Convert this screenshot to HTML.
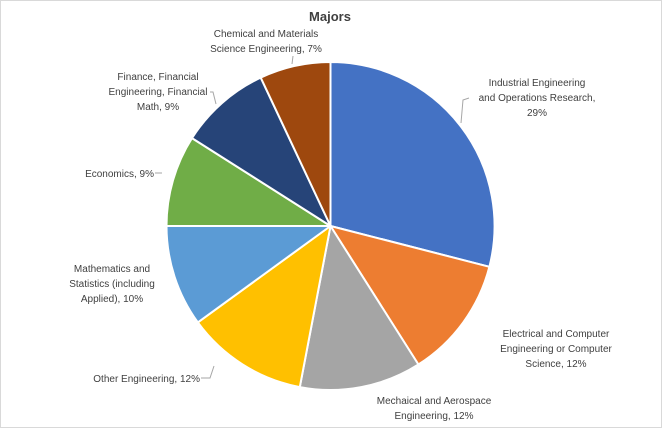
<!DOCTYPE html>
<html><head><meta charset="utf-8"><style>
html,body{margin:0;padding:0;background:#fff;}
svg{display:block;}
text{font-family:"Liberation Sans",sans-serif;font-size:10px;fill:#404040;}
</style></head><body>
<svg width="662" height="428" viewBox="0 0 662 428">
<rect x="0.5" y="0.5" width="661" height="427" fill="#fff" stroke="#d9d9d9"/>
<text x="330" y="21" text-anchor="middle" style="font-size:13px;font-weight:bold;fill:#404040">Majors</text>
<g stroke="#fff" stroke-width="2" stroke-linejoin="round">
<path d="M330.5,226 L330.5,62 A164,164 0 0,1 489.4,266.8 Z" fill="#4472C4"/>
<path d="M330.5,226 L489.4,266.8 A164,164 0 0,1 418.4,364.5 Z" fill="#ED7D31"/>
<path d="M330.5,226 L418.4,364.5 A164,164 0 0,1 299.8,387.1 Z" fill="#A5A5A5"/>
<path d="M330.5,226 L299.8,387.1 A164,164 0 0,1 197.8,322.4 Z" fill="#FFC000"/>
<path d="M330.5,226 L197.8,322.4 A164,164 0 0,1 166.5,226 Z" fill="#5B9BD5"/>
<path d="M330.5,226 L166.5,226 A164,164 0 0,1 192.0,138.1 Z" fill="#70AD47"/>
<path d="M330.5,226 L192.0,138.1 A164,164 0 0,1 260.7,77.6 Z" fill="#264478"/>
<path d="M330.5,226 L260.7,77.6 A164,164 0 0,1 330.5,62 Z" fill="#9E480E"/>
</g>
<g fill="none" stroke="#a6a6a6" stroke-width="1">
<polyline points="293,56 292,64"/>
<polyline points="469,98 463,100 461,123"/>
<polyline points="210,92 213,92 216,104"/>
<polyline points="155,173 162,173"/>
<polyline points="201,378 210,378 214,366"/>
</g>
<text text-anchor="middle"><tspan x="266" y="37">Chemical and Materials</tspan><tspan x="266" y="52">Science Engineering, 7%</tspan></text>
<text text-anchor="middle"><tspan x="537" y="86">Industrial Engineering</tspan><tspan x="537" y="101">and Operations Research,</tspan><tspan x="537" y="116">29%</tspan></text>
<text text-anchor="middle"><tspan x="158" y="80">Finance, Financial</tspan><tspan x="158" y="95">Engineering, Financial</tspan><tspan x="158" y="110">Math, 9%</tspan></text>
<text x="154" y="177" text-anchor="end">Economics, 9%</text>
<text text-anchor="middle"><tspan x="112" y="272">Mathematics and</tspan><tspan x="112" y="287">Statistics (including</tspan><tspan x="112" y="302">Applied), 10%</tspan></text>
<text x="200" y="382" text-anchor="end">Other Engineering, 12%</text>
<text text-anchor="middle"><tspan x="434" y="404">Mechaical and Aerospace</tspan><tspan x="434" y="419">Engineering, 12%</tspan></text>
<text text-anchor="middle"><tspan x="556" y="337">Electrical and Computer</tspan><tspan x="556" y="352">Engineering or Computer</tspan><tspan x="556" y="367">Science, 12%</tspan></text>
</svg>
</body></html>
